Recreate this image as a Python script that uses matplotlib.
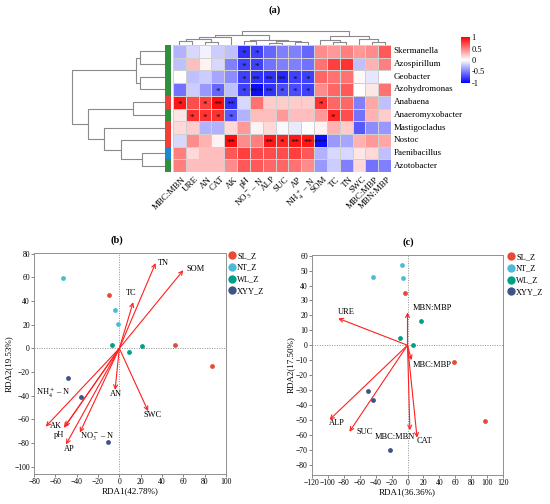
import matplotlib
matplotlib.use("Agg")
import matplotlib.pyplot as plt
import numpy as np
from matplotlib.colors import LinearSegmentedColormap
from matplotlib.lines import Line2D

plt.rcParams["font.family"] = ["Liberation Serif", "DejaVu Serif"]
plt.rcParams["mathtext.fontset"] = "stix"

W, H, DPI = 550, 504, 100

# ---------------- (a) heatmap data ----------------
genera = ["Skermanella", "Azospirillum", "Geobacter", "Azohydromonas", "Anabaena",
          "Anaeromyxobacter", "Mastigocladus", "Nostoc", "Paenibacillus", "Azotobacter"]
soil_vars = ["MBC:MBN", "URE", "AN", "CAT", "AK", "pH", r"NO$_3^-$ – N", "ALP", "SUC",
             "AP", r"NH$_4^+$ – N", "SOM", "TC", "TN", "SWC", "MBC:MBP", "MBN:MBP"]
corr = [
    [-0.30, -0.15, -0.05, -0.20, -0.25, -0.80, -0.75, -0.60, -0.50, -0.50, -0.60, 0.45, 0.40, 0.50, 0.40, 0.45, 0.65],
    [-0.25, 0.25, 0.05, -0.15, -0.50, -0.75, -0.75, -0.55, -0.50, -0.50, -0.55, 0.55, 0.75, 0.80, -0.25, 0.30, 0.50],
    [0.00, -0.25, -0.20, -0.35, -0.45, -0.75, -0.80, -0.80, -0.85, -0.75, -0.75, 0.60, 0.55, 0.55, 0.03, -0.10, 0.00],
    [-0.55, -0.20, -0.40, -0.60, -0.25, -0.75, -0.95, -0.80, -0.70, -0.70, -0.75, 0.45, 0.60, 0.65, 0.00, 0.10, 0.55],
    [0.90, 0.70, 0.75, 0.95, -0.80, -0.15, 0.55, 0.20, 0.20, 0.20, 0.20, 0.80, 0.60, 0.60, -0.50, 0.35, -0.25],
    [0.10, 0.80, 0.80, 0.80, -0.65, -0.30, 0.25, 0.25, 0.40, 0.25, 0.25, 0.40, 0.85, 0.70, -0.55, 0.30, 0.20],
    [0.15, 0.20, -0.30, -0.30, 0.15, 0.40, 0.05, 0.15, -0.03, -0.08, 0.00, 0.05, 0.30, 0.20, -0.65, -0.45, -0.40],
    [-0.15, 0.45, 0.30, 0.05, 0.95, 0.45, 0.50, 0.90, 0.85, 0.90, 0.90, -0.95, -0.40, -0.35, 0.30, 0.40, 0.35],
    [0.50, 0.15, 0.25, 0.25, 0.65, 0.75, 0.70, 0.70, 0.70, 0.75, 0.65, -0.30, -0.15, -0.15, 0.10, 0.15, -0.25],
    [0.50, 0.25, 0.25, 0.25, 0.45, 0.65, 0.65, 0.60, 0.60, 0.55, 0.45, -0.40, -0.20, -0.50, 0.15, -0.55, -0.50],
]
stars = [
    ["", "", "", "", "", "*", "*", "", "", "", "", "", "", "", "", "", ""],
    ["", "", "", "", "", "*", "*", "", "", "", "", "", "", "", "", "", ""],
    ["", "", "", "", "", "*", "**", "**", "**", "*", "*", "", "", "", "", "", ""],
    ["", "", "", "*", "", "*", "***", "**", "*", "*", "*", "", "", "", "", "", ""],
    ["*", "", "*", "**", "**", "", "", "", "", "", "", "*", "", "", "", "", ""],
    ["", "*", "*", "*", "*", "", "", "", "", "", "", "", "*", "", "", "", ""],
    ["", "", "", "", "", "", "", "", "", "", "", "", "", "", "", "", ""],
    ["", "", "", "", "**", "", "", "**", "*", "**", "**", "***", "", "", "", "", ""],
    ["", "", "", "", "", "", "", "", "", "", "", "", "", "", "", "", ""],
    ["", "", "", "", "", "", "", "", "", "", "", "", "", "", "", "", ""],
]
row_group_colors = ["#2F8F3A"] * 4 + ["#EE4037", "#2F8F3A", "#EE4037", "#EE4037", "#1B87D2", "#2F8F3A"]

# dendrogram merges: (node a, node b, height)
row_links = [(0, 1, 25), (2, 3, 25), (10, 11, 29), (4, 5, 32), (8, 9, 23),
             (7, 14, 44), (6, 15, 61), (13, 16, 77), (12, 17, 93)]
col_links = [(7, 8, 2.5), (9, 10, 3), (17, 18, 4), (5, 6, 4.5), (20, 19, 5.5),
             (2, 3, 3.5), (0, 1, 4.5), (23, 22, 6.5), (24, 4, 8), (25, 21, 10),
             (12, 13, 3), (11, 27, 5.5), (15, 16, 3.5), (14, 29, 6), (28, 30, 9),
             (26, 31, 14)]

# ---------------- (b) RDA soil properties ----------------
sites = ["SL_Z", "NT_Z", "WL_Z", "XYY_Z"]
site_colors = ["#E64B35", "#4DBBD5", "#00A087", "#3C5488"]
b_x = [[-10, 52, 87], [-53, -4, -1], [-7, 21, 9], [-48, -36, -11]]
b_y = [[45, 3, -15], [59, 32, 21], [3, 2, -3], [-25, -41, -79]]
b_vars = ["TN", "SOM", "TC", "AN", "SWC", r"NH$_4^+$ – N", "AK", "pH", "AP", r"NO$_3^-$ – N"]
b_tip_x = [34, 60, 13, -4, 27, -69, -51, -52, -50, -37]
b_tip_y = [72, 66, 39, -35, -53, -66, -66, -67, -81, -71]

# ---------------- (c) RDA enzymes / stoichiometry ----------------
c_x = [[-3, 58, 97], [-7, -6, -43], [-9, 17, 7], [-50, -43, -22]]
c_y = [[35, -11, -51], [54, 45, 46], [5, 16, 0], [-31, -37, -70]]
c_vars = ["URE", "MBN:MBP", "MBC:MBP", "ALP", "SUC", "MBC:MBN", "CAT"]
c_tip_x = [-87, 0, 5, -98, -73, 3, 12]
c_tip_y = [18, 22, -10, -50, -58, -57, -62]

# label placement (layout only): (x, y, ha, va)
b_label_pos = [(36, 72, "left", "center"), (63, 67, "left", "center"), (11, 47, "center", "center"),
               (-3, -38.5, "center", "center"), (31, -56, "center", "center"), (-46, -38, "right", "center"),
               (-59, -65.5, "center", "center"), (-56.5, -73, "center", "center"), (-47, -84.5, "center", "center"),
               (-21, -75, "center", "center")]
c_label_pos = [(-88, 22.5, "left", "center"), (6, 25, "left", "center"), (7, -13, "left", "center"),
               (-99, -52, "left", "center"), (-64, -58, "left", "center"), (-16, -61.5, "center", "center"),
               (12, -64.5, "left", "center")]


def px_axes(fig, left, top, right, bottom):
    return fig.add_axes([left / W, 1 - bottom / H, (right - left) / W, (bottom - top) / H])


def draw_dendro(ax, n_leaves, links, horizontal):
    pos = {i: (i + 0.5, 0.0) for i in range(n_leaves)}
    for k, (a, b, h) in enumerate(links):
        xa, ha = pos[a]
        xb, hb = pos[b]
        xs, ys = [xa, xa, xb, xb], [ha, h, h, hb]
        if horizontal:
            ax.plot(ys, xs, color="#8a8a8a", lw=0.8, solid_capstyle="butt")
        else:
            ax.plot(xs, ys, color="#8a8a8a", lw=0.8, solid_capstyle="butt")
        pos[n_leaves + k] = ((xa + xb) / 2, h)
    ax.axis("off")


fig = plt.figure(figsize=(W / DPI, H / DPI), dpi=DPI)
fig.text(275 / W, 1 - 10 / H, "(a)", ha="center", va="center", fontsize=7.5, fontweight="bold")

n_rows, n_cols = len(genera), len(soil_vars)
cmap = LinearSegmentedColormap.from_list("bwr_", ["#0000FF", "#FFFFFF", "#FF0000"])

ax_h = px_axes(fig, 173, 45, 391, 172)
mesh = ax_h.pcolormesh(np.array(corr), cmap=cmap, vmin=-1, vmax=1,
                       edgecolors="#d0d0d0", linewidth=0.6)
ax_h.set_xlim(0, n_cols)
ax_h.set_ylim(n_rows, 0)
ax_h.set_xticks([])
ax_h.set_yticks([])
for s in ax_h.spines.values():
    s.set_visible(False)
for i in range(n_rows):
    for j in range(n_cols):
        if stars[i][j]:
            ax_h.text(j + 0.5, i + 0.72, stars[i][j], ha="center", va="center",
                      fontsize=6.5, color="#111111")
    ax_h.text(n_cols + 0.2, i + 0.5, genera[i], ha="left", va="center", fontsize=6.5)
for j, lab in enumerate(soil_vars):
    ax_h.text(j + 0.7, n_rows + 0.25, lab, ha="right", va="top", rotation=45,
              rotation_mode="anchor", fontsize=6.5)

ax_strip = px_axes(fig, 165, 45, 171, 172)
for i, c in enumerate(row_group_colors):
    ax_strip.axhspan(i, i + 1, color=c, lw=0)
ax_strip.set_ylim(n_rows, 0)
ax_strip.axis("off")

ax_rd = px_axes(fig, 65, 45, 165, 172)
draw_dendro(ax_rd, n_rows, row_links, horizontal=True)
ax_rd.set_xlim(100, 0)
ax_rd.set_ylim(n_rows, 0)

ax_cd = px_axes(fig, 173, 28, 391, 45)
draw_dendro(ax_cd, n_cols, col_links, horizontal=False)
ax_cd.set_xlim(0, n_cols)
ax_cd.set_ylim(0, 17)

ax_cb = px_axes(fig, 461, 37, 470, 83)
cb = fig.colorbar(mesh, cax=ax_cb, ticks=[1, 0.5, 0, -0.5, -1])
cb.outline.set_visible(False)
cb.ax.tick_params(length=0, labelsize=6, pad=1)
cb.ax.set_yticklabels(["1", "0.5", "0", "-0.5", "-1"])


def rda_panel(ax, xs, ys, tip_x, tip_y, names, label_pos, xlim, ylim, xticks, yticks, xlabel, ylabel):
    ax.axhline(0, color="#909090", ls=(0, (1, 1.5)), lw=0.7, zorder=1)
    ax.axvline(0, color="#909090", ls=(0, (1, 1.5)), lw=0.7, zorder=1)
    for gx, gy, col in zip(xs, ys, site_colors):
        ax.scatter(gx, gy, s=12, color=col, zorder=3, linewidths=0)
    for tx, ty, name, (lx, ly, ha, va) in zip(tip_x, tip_y, names, label_pos):
        ax.annotate("", xy=(tx, ty), xytext=(0, 0),
                    arrowprops=dict(arrowstyle="->", color="#FF2020", lw=0.8,
                                    shrinkA=0, shrinkB=0, mutation_scale=7), zorder=2)
        ax.text(lx, ly, name, ha=ha, va=va, fontsize=6)
    ax.set_xlim(*xlim)
    ax.set_ylim(*ylim)
    ax.set_xticks(xticks)
    ax.set_yticks(yticks)
    ax.tick_params(labelsize=5.5, length=2, width=0.6, color="#707070", pad=1)
    for s in ax.spines.values():
        s.set_color("#909090")
        s.set_linewidth(0.7)
    ax.set_xlabel(xlabel, fontsize=6.5, labelpad=1)
    ax.set_ylabel(ylabel, fontsize=6.5, labelpad=1)


ax_b = px_axes(fig, 34, 253, 226, 474)
rda_panel(ax_b, b_x, b_y, b_tip_x, b_tip_y, b_vars, b_label_pos, (-80, 100), (-106, 80.5),
          np.arange(-80, 101, 20), np.arange(-100, 81, 20), "RDA1(42.78%)", "RDA2(19.53%)")
fig.text(117 / W, 1 - 240 / H, "(b)", ha="center", va="center", fontsize=7.5, fontweight="bold")

ax_c = px_axes(fig, 312, 255, 503, 475)
rda_panel(ax_c, c_x, c_y, c_tip_x, c_tip_y, c_vars, c_label_pos, (-120, 120), (-87, 60.5),
          np.arange(-120, 121, 20), np.arange(-80, 61, 10), "RDA1(36.36%)", "RDA2(17.50%)")
fig.text(408 / W, 1 - 242 / H, "(c)", ha="center", va="center", fontsize=7.5, fontweight="bold")

handles = [Line2D([], [], marker="o", ls="", color=c, markersize=6, markeredgewidth=0) for c in site_colors]
for x0, y0 in [(228, 252), (507, 253)]:
    fig.legend(handles, sites, loc="upper left", bbox_to_anchor=(x0 / W, 1 - y0 / H),
               frameon=False, fontsize=6, handletextpad=0.1, labelspacing=0.45,
               borderpad=0, borderaxespad=0, handlelength=1.0)

fig.savefig("out.png", dpi=DPI)
